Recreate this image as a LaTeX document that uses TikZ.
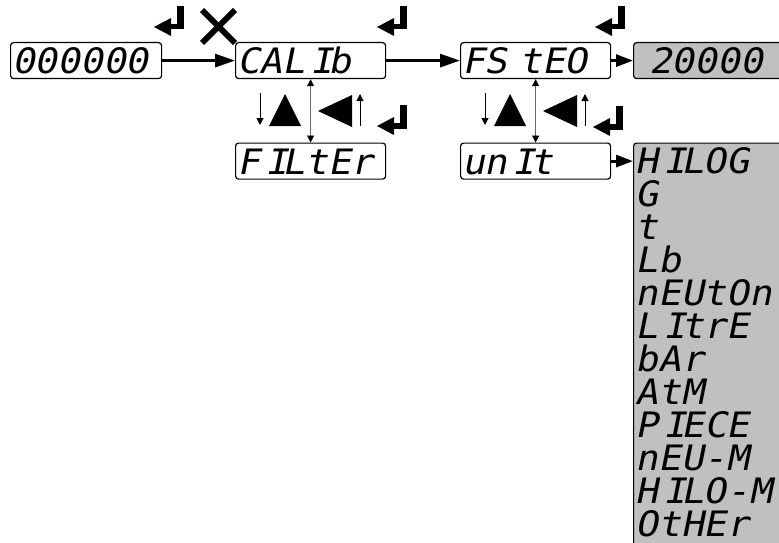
\documentclass[tikz,border=0pt]{standalone}
\usepackage{fontspec}
\newfontfamily\segfam{DejaVu Sans Mono}[FakeSlant=0.2,FakeStretch=1.08]
\usetikzlibrary{arrows.meta,calc}
\newcommand\segfont{\segfam\fontsize{35pt}{33pt}\selectfont}
\newcommand\segI{\rlap{\hspace{0.15em}I}\phantom{I}}
\definecolor{dispgrey}{RGB}{192,192,192}
\begin{document}
\begin{tikzpicture}[x=1pt,y=-1pt,
  dispbox/.style={draw, line width=1.2pt, rounded corners=3pt, anchor=north west,
    minimum height=36pt, inner ysep=0pt, inner xsep=1.5pt, text height=26pt,
    text depth=0pt, align=left, font=\segfont},
  greybox/.style={dispbox, fill=dispgrey},
  bigarrow/.style={line width=3pt, -{Triangle[length=20pt,width=13pt]}},
  smallarrow/.style={line width=3pt, -{Triangle[length=17pt,width=12pt]}},
  updown/.style={line width=0.9pt, draw=gray!80!black,
    {Triangle[length=7pt,width=7pt,color=black]}-{Triangle[length=7pt,width=7pt,color=black]}},
  thinarrow/.style={line width=1pt, -{Triangle[length=7pt,width=7pt]}},
  enterkey/.pic={
    \fill (0,0) -- (17,-9) -- (17,9) -- cycle;
    \fill (16,-3) rectangle (30,2.5);
    \fill (23,-21) rectangle (30,2.5);
  },
  navkeys/.pic={
    \draw[thinarrow] (260,93) -- (260,125);
    \fill (269,126) -- (301,126) -- (285,94) -- cycle;
    \fill (318,111) -- (352,95) -- (352,127) -- cycle;
    \draw[thinarrow] (360,126) -- (360,94);
  }]
\useasboundingbox (0,0) rectangle (779,543);
\clip (0,0) rectangle (779,543);

% displays
\node[dispbox, text width=148pt] (b0) at (10,42) {000000};
\node[dispbox, text width=147pt] (cal) at (235,42) {CAL\segI b};
\node[dispbox, text width=147pt] (filter) at (235,142.5) {F\segI LtEr};
\node[dispbox, text width=147pt] (fs) at (460,42) {FS tEO};
\node[dispbox, text width=147pt] (unit) at (460,142.5) {un\segI t};
\node[greybox, text width=200pt] (g20) at (633,42) {\hspace*{14pt}20000};
\node[greybox, minimum width=200pt, minimum height=420pt] (list) at (633,142.5) {};
\node[anchor=north west, inner sep=0pt, align=left, font=\segfont] (listtext)
  at ($(list.north west)+(2.5,0)$)
  {\rule{0pt}{30.5pt}H\segI LOG\\G\\t\\Lb\\nEUtOn\\L\segI trE\\bAr\\AtM\\P\segI ECE\\nEU-M\\H\segI LO-M\\OtHEr};

% connectors
\draw[bigarrow] (b0.east) -- (cal.west);
\draw[bigarrow] (cal.east) -- (fs.west);
\draw[smallarrow] (fs.east) -- (g20.west);
\draw[smallarrow] (unit.east) -- (unit.east -| list.west);
\draw[updown] (cal.south) -- (filter.north);
\draw[updown] (fs.south) -- (unit.north);

% key symbols
\pic at (154,27) {enterkey};
\pic at (377,27) {enterkey};
\pic at (377,126) {enterkey};
\pic at (595,27) {enterkey};
\pic at (593,127) {enterkey};
\draw[line width=6pt] (202,10) -- (235,43) (235,10) -- (202,43);
\pic at (0,0) {navkeys};
\pic at (225,0) {navkeys};
\end{tikzpicture}
\end{document}
